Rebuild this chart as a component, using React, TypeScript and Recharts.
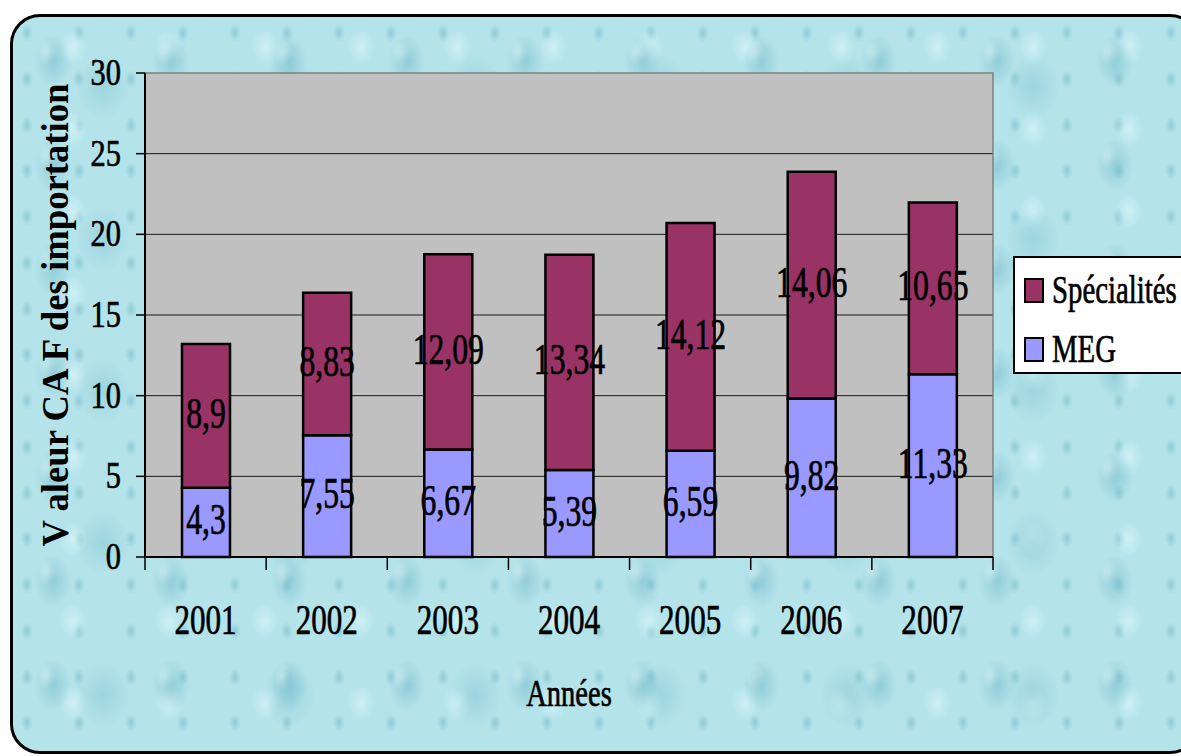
import React from "react";
import {
  Bar,
  BarChart,
  CartesianGrid,
  LabelList,
  Legend,
  ReferenceArea,
  XAxis,
  YAxis,
} from "recharts";

const years = ["2001", "2002", "2003", "2004", "2005", "2006", "2007"];
const megValues = [4.3, 7.55, 6.67, 5.39, 6.59, 9.82, 11.33];
const specialiteValues = [8.9, 8.83, 12.09, 13.34, 14.12, 14.06, 10.65];
const yTicks = [0, 5, 10, 15, 20, 25, 30];
const boundaryTicks = [0, 1, 2, 3, 4, 5, 6, 7];

const series = [
  { key: "meg", name: "MEG", color: "#9999FF" },
  { key: "spec", name: "Spécialités", color: "#993366" },
];

const data = years.map((year, i) => ({
  year,
  meg: megValues[i],
  spec: specialiteValues[i],
}));

// slot centre of a year on the 0..7 boundary axis
const slotOf = (d: { year: string }) => years.indexOf(d.year) + 0.5;

const FONT = "'Liberation Serif', 'Times New Roman', serif";

// water-drop texture for the card behind the chart
const texture = [
  "radial-gradient(ellipse 18px 26px at 40px 44px, rgba(110,182,198,0.5), rgba(110,182,198,0) 100%)",
  "radial-gradient(ellipse 9px 13px at 34px 36px, rgba(240,255,255,0.65), rgba(240,255,255,0) 100%)",
  "radial-gradient(ellipse 26px 32px at 90px 70px, rgba(120,190,205,0.4), rgba(120,190,205,0) 100%)",
  "radial-gradient(ellipse 14px 18px at 60px 30px, rgba(225,250,252,0.6), rgba(225,250,252,0) 100%)",
  "radial-gradient(ellipse 6px 9px at 14px 16px, rgba(100,175,190,0.45), rgba(100,175,190,0) 100%)",
];
const textureSize = ["118px 104px", "118px 104px", "186px 152px", "96px 82px", "52px 46px"];

// Times-like text squeezed horizontally
function Condensed({
  x,
  y,
  text,
  size,
  squeeze,
  anchor = "middle",
  weight = "normal",
}: {
  x: number;
  y: number;
  text: string;
  size: number;
  squeeze: number;
  anchor?: "start" | "middle" | "end";
  weight?: string;
}) {
  return (
    <text
      transform={`translate(${x},${y}) scale(${squeeze},1)`}
      textAnchor={anchor}
      fontFamily={FONT}
      fontSize={size}
      fontWeight={weight}
      fill="#000"
      stroke="#000"
      strokeWidth={0.7}
    >
      {text}
    </text>
  );
}

const YTick = (props: any) => (
  <Condensed
    x={props.x - 5}
    y={props.y + 12}
    text={String(props.payload.value)}
    size={38}
    squeeze={0.8}
    anchor="end"
  />
);

const YearTick = (props: any) => (
  <Condensed x={props.x} y={props.y + 76} text={props.payload.value} size={42} squeeze={0.74} />
);

const NoTick = () => <g />;

const ValueLabel = (props: any) => {
  const { x, y, width, height, value } = props;
  return (
    <Condensed
      x={x + width / 2}
      y={y + height / 2 + 12}
      text={String(value).replace(".", ",")}
      size={44}
      squeeze={0.72}
    />
  );
};

const LegendBox = () => (
  <div
    style={{
      width: 180,
      height: 118,
      background: "#fff",
      border: "2px solid #000",
      boxSizing: "border-box",
      position: "relative",
    }}
  >
    <svg width={176} height={114} style={{ display: "block" }}>
      {[...series].reverse().map((s, i) => (
        <g key={s.key}>
          <rect x={10} y={21 + i * 59} width={18} height={23} fill={s.color} stroke="#000" strokeWidth={2} />
          <Condensed x={37} y={45 + i * 59} text={s.name} size={40} squeeze={0.72} anchor="start" />
        </g>
      ))}
    </svg>
  </div>
);

export default function App() {
  return (
    <div style={{ position: "fixed", left: 0, top: 0, width: 1181, height: 756, overflow: "hidden", background: "#fff" }}>
      <div
        style={{
          position: "absolute",
          left: 10,
          top: 14,
          width: 1190,
          height: 740,
          boxSizing: "border-box",
          border: "3px solid #000",
          borderRadius: 30,
          backgroundColor: "#B4E3EA",
          backgroundImage: texture.join(","),
          backgroundSize: textureSize.join(","),
        }}
      />
      <div style={{ position: "absolute", left: 0, top: 0 }}>
        <BarChart
          width={1181}
          height={756}
          data={data}
          margin={{ top: 73, right: 188, bottom: 197, left: 144 }}
          barSize={48}
        >
          <CartesianGrid
            xAxisId="cat"
            vertical={false}
            horizontalValues={[5, 10, 15, 20, 25]}
            fill="#C0C0C0"
            fillOpacity={1}
            stroke="#1a1a1a"
            strokeDasharray=""
          />
          <ReferenceArea xAxisId="cat" y1={0} y2={30} fill="none" stroke="#808080" strokeWidth={1.5} />
          <XAxis
            xAxisId="cat"
            dataKey="year"
            height={1}
            axisLine={false}
            tickLine={false}
            tickSize={0}
            tickMargin={0}
            tick={<YearTick />}
            interval={0}
            label={{
              content: (p: any) => (
                <Condensed
                  x={p.viewBox.x + p.viewBox.width / 2}
                  y={p.viewBox.y + 148}
                  text="Années"
                  size={38}
                  squeeze={0.75}
                />
              ),
            }}
          />
          <XAxis
            xAxisId="bounds"
            type="number"
            dataKey={slotOf}
            domain={[0, 7]}
            allowDataOverflow
            ticks={boundaryTicks}
            height={1}
            tick={<NoTick />}
            tickSize={13}
            tickLine={{ stroke: "#000", strokeWidth: 1.5 }}
            axisLine={{ stroke: "#000", strokeWidth: 2 }}
          />
          <YAxis
            domain={[0, 30]}
            ticks={yTicks}
            width={1}
            tickSize={9}
            tickMargin={10}
            tickLine={{ stroke: "#000", strokeWidth: 1.5 }}
            axisLine={{ stroke: "#000", strokeWidth: 2 }}
            tick={<YTick />}
            label={{
              content: (p: any) => (
                <text
                  transform={`translate(${p.viewBox.x - 76},${p.viewBox.y + p.viewBox.height / 2}) rotate(-90)`}
                  textAnchor="middle"
                  fontFamily={FONT}
                  fontWeight="bold"
                  fontSize={37}
                  textLength={463}
                  lengthAdjust="spacingAndGlyphs"
                  fill="#000"
                >
                  V aleur CA F des importation
                </text>
              ),
            }}
          />
          {series.map((s) => (
            <Bar
              key={s.key}
              xAxisId="cat"
              dataKey={s.key}
              name={s.name}
              stackId="total"
              fill={s.color}
              stroke="#000"
              strokeWidth={2.5}
              isAnimationActive={false}
            >
              <LabelList dataKey={s.key} content={<ValueLabel />} />
            </Bar>
          ))}
          <Legend
            layout="horizontal"
            verticalAlign="middle"
            align="center"
            content={<LegendBox />}
            wrapperStyle={{ position: "absolute", left: 1013, top: 256, width: 180, height: 118 }}
          />
        </BarChart>
      </div>
    </div>
  );
}
